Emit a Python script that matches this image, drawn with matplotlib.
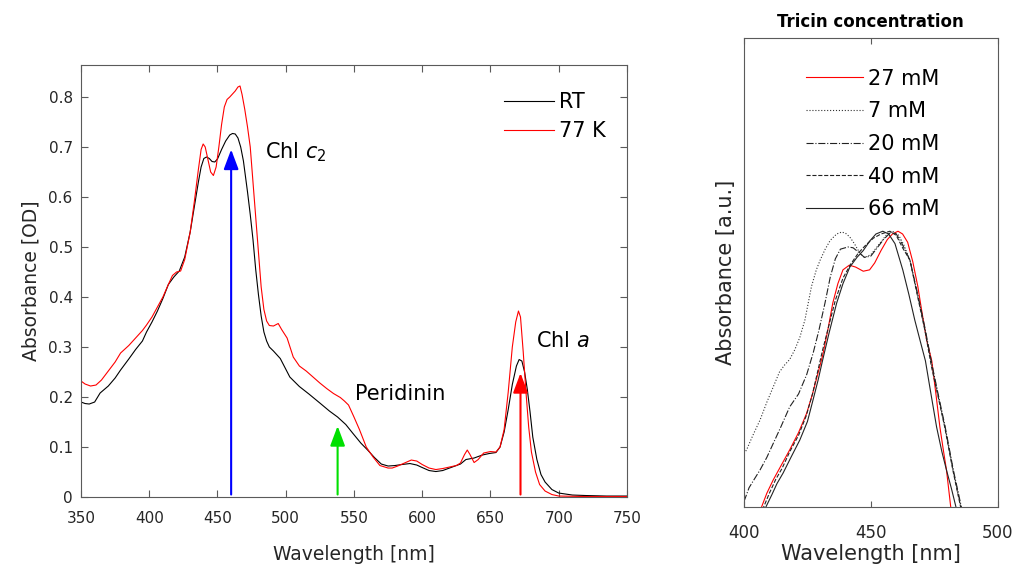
import numpy as np
from matplotlib import pyplot as plt

# left panel: RT vs 77 K spectra
rt_nm = [350, 353, 356, 360, 364, 370, 375, 379, 385, 390, 395, 398, 402, 406, 410, 414, 418, 422,
         426, 430, 433, 436, 438, 440, 442, 444, 446, 448, 450, 453, 456, 459, 461, 463, 465, 467,
         469, 472, 474, 476, 478, 480, 482, 484, 486, 488, 491, 496, 503, 510, 517, 525, 532, 538,
         544, 549, 555, 560, 565, 570, 575, 580, 585, 591, 596, 600, 605, 610, 615, 622, 628, 632,
         638, 644, 649, 654, 657, 660, 663, 666, 669, 671, 673, 675, 677, 679, 681, 684, 687, 690,
         695, 700, 710, 720, 735, 750]
rt_abs = [0.190, 0.187, 0.186, 0.190, 0.208, 0.222, 0.238, 0.254, 0.276, 0.295, 0.312, 0.330,
          0.350, 0.372, 0.397, 0.425, 0.440, 0.452, 0.480, 0.530, 0.580, 0.630, 0.660, 0.677, 0.680,
          0.677, 0.671, 0.670, 0.676, 0.695, 0.712, 0.724, 0.727, 0.726, 0.718, 0.700, 0.672, 0.610,
          0.565, 0.515, 0.455, 0.405, 0.362, 0.330, 0.312, 0.300, 0.292, 0.277, 0.240, 0.221, 0.206,
          0.188, 0.172, 0.160, 0.145, 0.128, 0.108, 0.094, 0.079, 0.066, 0.062, 0.063, 0.065, 0.067,
          0.064, 0.059, 0.053, 0.051, 0.053, 0.060, 0.066, 0.075, 0.078, 0.084, 0.087, 0.089, 0.100,
          0.130, 0.175, 0.225, 0.262, 0.275, 0.272, 0.250, 0.215, 0.170, 0.120, 0.075, 0.045, 0.030,
          0.015, 0.008, 0.004, 0.003, 0.002, 0.002]

lt_nm = [350, 353, 357, 361, 365, 370, 375, 379, 385, 390, 395, 398, 402, 406, 410, 414, 417, 420,
         423, 426, 430, 433, 436, 438, 439.5, 441, 443, 445, 447, 449, 451, 453, 455, 457, 459, 461,
         463, 465, 466.5, 468, 470, 472, 474, 476, 478, 480, 482, 484, 486, 488, 491, 494.5, 497, 501,
         505.5, 510, 515, 520, 525, 530, 535, 540, 543, 546, 550, 554, 559, 564, 569, 575, 578, 582,
         587, 592, 596, 600, 605, 610, 615, 620, 625, 628, 631, 633, 635, 638, 641, 645, 650, 654, 657,
         660, 663, 666, 668.5, 670.5, 672, 674, 676, 678, 680, 683, 686, 690, 695, 700, 720, 750]
lt_abs = [0.232, 0.226, 0.222, 0.224, 0.234, 0.252, 0.270, 0.288, 0.303, 0.318, 0.333, 0.344,
          0.360, 0.380, 0.400, 0.425, 0.443, 0.450, 0.452, 0.475, 0.530, 0.590, 0.655, 0.695, 0.706,
          0.700, 0.675, 0.650, 0.643, 0.660, 0.700, 0.745, 0.780, 0.795, 0.800, 0.806, 0.812, 0.820,
          0.822, 0.805, 0.775, 0.740, 0.700, 0.630, 0.560, 0.490, 0.420, 0.375, 0.352, 0.343, 0.342,
          0.347, 0.335, 0.318, 0.280, 0.262, 0.252, 0.240, 0.228, 0.217, 0.207, 0.199, 0.192, 0.184,
          0.160, 0.135, 0.100, 0.080, 0.063, 0.058, 0.058, 0.062, 0.068, 0.074, 0.072, 0.065, 0.058,
          0.055, 0.057, 0.060, 0.063, 0.068, 0.085, 0.094, 0.085, 0.069, 0.075, 0.088, 0.091, 0.090,
          0.100, 0.135, 0.210, 0.300, 0.350, 0.372, 0.360, 0.290, 0.210, 0.140, 0.090, 0.050, 0.025,
          0.012, 0.005, 0.002, 0.001, 0.001]

arrow_nm = [460, 538, 672]
arrow_top = [0.695, 0.142, 0.248]
arrow_colors = ['#0000ff', '#00e000', '#ff0000']

left_yticks = [0, 0.1, 0.2, 0.3, 0.4, 0.5, 0.6, 0.7, 0.8]
left_yticklabels = ['0', '0.1', '0.2', '0.3', '0.4', '0.5', '0.6', '0.7', '0.8']
left_xticks = [350, 400, 450, 500, 550, 600, 650, 700, 750]

# right panel: tricin concentration, normalised
c27_nm = [406.5, 409, 411.5, 414, 418, 421.5, 424.7, 427, 429, 431, 433, 435, 437, 439, 441.5, 444,
          447, 449.5, 451.5, 454, 456.5, 458.5, 460.7, 462.5, 464.5, 466.5, 468.5, 470, 472, 474,
          475.5, 477.2, 478.5, 479.8, 481.6]
c27_abs = [-0.01, 0.05, 0.098, 0.14, 0.207, 0.27, 0.34, 0.41, 0.48, 0.55, 0.64, 0.74, 0.81, 0.86,
           0.877, 0.87, 0.855, 0.86, 0.885, 0.93, 0.97, 0.99, 1.0, 0.99, 0.96, 0.89, 0.80, 0.714,
           0.605, 0.53, 0.42, 0.29, 0.21, 0.134, -0.01]

c7_nm = [400, 401, 403.5, 406.3, 409, 411.5, 414, 416, 418, 420, 422, 424, 426.6, 428.5, 430, 432,
         434, 436.5, 438.5, 440, 441.7, 443.5, 445.7, 447.5, 450, 453, 456, 458.5, 461, 463, 465.4,
         468.5, 471.3, 474, 476.5, 479.2, 482.4, 485.7]
c7_abs = [0.194, 0.207, 0.26, 0.315, 0.38, 0.435, 0.49, 0.515, 0.535, 0.57, 0.615, 0.678, 0.80,
          0.86, 0.895, 0.935, 0.967, 0.99, 0.997, 0.993, 0.979, 0.955, 0.92, 0.905, 0.915, 0.95,
          0.985, 1.0, 0.985, 0.95, 0.895, 0.765, 0.645, 0.515, 0.405, 0.29, 0.134, -0.01]

c20_nm = [400, 402, 404, 406.3, 409, 411.5, 414.5, 418, 421.5, 424.7, 427.3, 429.5, 431.9, 434,
          436, 438, 441, 443, 445, 447.5, 450, 452.5, 455, 458, 460, 462, 465.4, 468.5, 471.3, 474,
          476.5, 479.3, 482.5, 485.9]
c20_abs = [0.02, 0.07, 0.10, 0.134, 0.18, 0.23, 0.29, 0.363, 0.41, 0.48, 0.56, 0.64, 0.739, 0.834,
           0.90, 0.935, 0.943, 0.94, 0.925, 0.905, 0.91, 0.94, 0.97, 0.998, 0.99, 0.96, 0.895,
           0.77, 0.65, 0.52, 0.41, 0.29, 0.134, -0.01]

c40_nm = [407.3, 410, 412.5, 415, 418, 421.5, 424.5, 427, 429, 431, 433.5, 436, 439, 442, 445, 448,
          451, 454, 457.5, 460, 462.5, 465.4, 468.5, 471.3, 473.9, 476.5, 479.1, 482.3, 485.6]
c40_abs = [-0.01, 0.05, 0.10, 0.14, 0.20, 0.26, 0.33, 0.41, 0.49, 0.57, 0.66, 0.75, 0.83, 0.88,
           0.92, 0.95, 0.975, 0.99, 1.0, 0.985, 0.94, 0.895, 0.76, 0.64, 0.508, 0.40, 0.29, 0.134,
           -0.01]

c66_nm = [408.1, 411, 413, 415.4, 418.5, 422, 425, 427.2, 429.2, 431, 433.5, 436.5, 439, 441.7,
          444.5, 447, 449.6, 452, 454.7, 457, 459.5, 462.6, 465, 467.3, 469.5, 471.5, 473.5, 475.9,
          478, 479.8, 481.8, 483.8]
c66_abs = [-0.01, 0.045, 0.085, 0.123, 0.18, 0.243, 0.31, 0.388, 0.46, 0.533, 0.63, 0.739, 0.81,
           0.87, 0.905, 0.93, 0.965, 0.99, 1.0, 0.99, 0.955, 0.859, 0.77, 0.678, 0.60, 0.53, 0.42,
           0.29, 0.20, 0.134, 0.065, -0.01]

right_xticks = [400, 450, 500]

fig = plt.figure(figsize=(10.15, 5.7), dpi=100)
plt.rcParams['font.family'] = 'DejaVu Sans'
axis_grey = '#5a5a5a'
text_grey = '#262626'

ax = fig.add_axes([0.0798, 0.128, 0.5379, 0.758])
ax.plot(rt_nm, rt_abs, color='black', lw=0.8, label='RT')
ax.plot(lt_nm, lt_abs, color='#ff0000', lw=0.8, label='77 K')
for x, top, c in zip(arrow_nm, arrow_top, arrow_colors):
    ax.annotate('', xy=(x, top), xytext=(x, 0.005),
                arrowprops=dict(arrowstyle='-|>,head_length=0.4,head_width=0.15', color=c,
                                lw=1.5, mutation_scale=30, shrinkA=0, shrinkB=0))
ax.text(485, 0.678, 'Chl $c_2$', fontsize=15, va='baseline')
ax.text(551, 0.194, 'Peridinin', fontsize=15, va='baseline')
ax.text(683, 0.300, 'Chl $a$', fontsize=15, va='baseline')
ax.set_xlim(350, 750)
ax.set_ylim(0, 0.864)
ax.set_xticks(left_xticks)
ax.set_yticks(left_yticks)
ax.set_yticklabels(left_yticklabels)
ax.tick_params(direction='in', top=True, right=True, labelsize=11, colors=axis_grey,
               labelcolor=text_grey, length=5)
ax.tick_params(axis='x', pad=10)
ax.tick_params(axis='y', pad=6)
for s in ax.spines.values():
    s.set_color(axis_grey)
ax.set_xlabel('Wavelength [nm]', fontsize=13.5, color=text_grey, labelpad=14)
ax.set_ylabel('Absorbance [OD]', fontsize=13.5, color=text_grey, labelpad=6)
ax.legend(loc='upper right', frameon=False, fontsize=15, handlelength=2.4, handletextpad=0.25,
          labelspacing=0.42, bbox_to_anchor=(0.995, 0.98))

ax2 = fig.add_axes([0.733, 0.1105, 0.250, 0.8225])
ax2.plot(c27_nm, c27_abs, color='#ff0000', lw=0.8, label='27 mM')
ax2.plot(c7_nm, c7_abs, color='#333333', lw=0.8, ls=':', label='7 mM')
ax2.plot(c20_nm, c20_abs, color='#222222', lw=0.8, ls='-.', label='20 mM')
ax2.plot(c40_nm, c40_abs, color='#222222', lw=0.8, ls='--', label='40 mM')
ax2.plot(c66_nm, c66_abs, color='#222222', lw=0.8, label='66 mM')
ax2.set_xlim(400, 500)
ax2.set_ylim(0, 1.70)
ax2.set_xticks(right_xticks)
ax2.set_yticks([])
ax2.tick_params(direction='in', top=True, labelsize=12, colors=axis_grey, labelcolor=text_grey,
                length=4, pad=12)
for s in ax2.spines.values():
    s.set_color(axis_grey)
ax2.set_xlabel('Wavelength [nm]', fontsize=15, color=text_grey, labelpad=2)
ax2.set_ylabel('Absorbance [a.u.]', fontsize=15, color=text_grey, labelpad=6)
ax2.set_title('Tricin concentration', fontsize=12, fontweight='bold', pad=8)
ax2.legend(loc='upper left', frameon=False, fontsize=15, handlelength=2.7, handletextpad=0.25,
           labelspacing=0.61, bbox_to_anchor=(0.172, 0.975))

fig.savefig('out.png', dpi=100)
